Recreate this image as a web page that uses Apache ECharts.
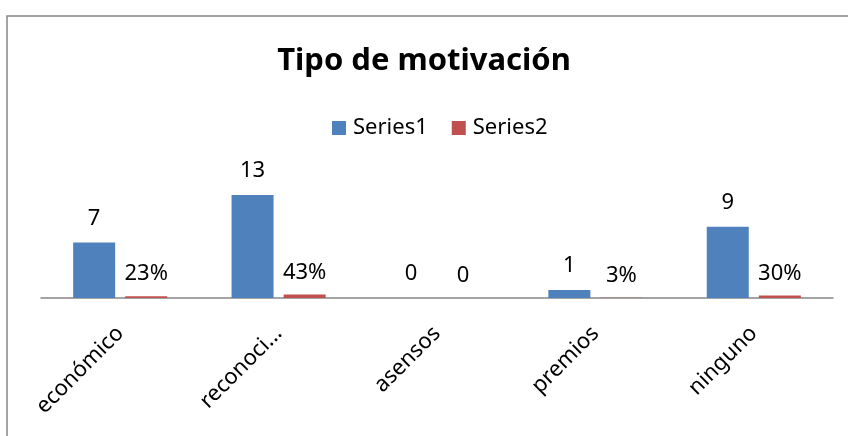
<!DOCTYPE html>
<html>
<head>
    <meta charset="utf-8">
    <title>Tipo de motivación</title>
    <script src="https://cdn.jsdelivr.net/npm/echarts@6/dist/echarts.min.js"></script>
    <style>
        html, body { margin: 0; padding: 0; background: #fff; }
        #main { width: 848px; height: 436px; }
    </style>
</head>
<body>
    <div id="main"></div>
    <script type="text/javascript">
    // datos
    var categorias = ['económico', 'reconoci...', 'asensos', 'premios', 'ninguno'];
    var serie1 = [7, 13, 0, 1, 9];
    var serie2 = [0.23, 0.43, 0, 0.03, 0.30];

    var fuente = 'Noto Sans';

    var myChart = echarts.init(document.getElementById('main'));

    var option = {
        animation: false,
        backgroundColor: '#fff',
        title: {
            text: 'Tipo de motivación',
            left: 'center',
            top: 41,
            textStyle: { fontFamily: fuente, fontSize: 31, fontWeight: 'bold', color: '#000' }
        },
        legend: {
            top: 112,
            left: 327,
            itemWidth: 14,
            itemHeight: 14,
            itemGap: 24,
            icon: 'rect',
            textStyle: { fontFamily: fuente, fontSize: 22, color: '#000', padding: [0, 0, 0, 2] },
            data: ['Series1', 'Series2']
        },
        graphic: [{
            type: 'rect',
            shape: { x: 7, y: 16, width: 900, height: 500 },
            style: { fill: 'none', stroke: '#868686', lineWidth: 1.5 },
            silent: true
        }],
        grid: { left: 41, right: 15, top: 187, bottom: 138 },
        xAxis: {
            type: 'category',
            data: categorias,
            axisLine: { lineStyle: { color: '#868686', width: 1.5 } },
            axisTick: { show: false },
            axisLabel: {
                rotate: 45,
                interval: 0,
                margin: 32,
                fontFamily: fuente,
                fontSize: 22,
                color: '#000'
            }
        },
        yAxis: {
            type: 'value',
            min: 0,
            max: 14,
            show: false
        },
        series: [{
            name: 'Series1',
            type: 'bar',
            data: serie1,
            barWidth: 42,
            barGap: '24%',
            itemStyle: { color: '#4F81BD' },
            label: {
                show: true,
                position: 'top',
                distance: 13,
                fontFamily: fuente,
                fontSize: 22,
                color: '#000'
            }
        }, {
            name: 'Series2',
            type: 'bar',
            data: serie2,
            barWidth: 42,
            itemStyle: { color: '#C0504D' },
            label: {
                show: true,
                position: 'top',
                distance: 11,
                fontFamily: fuente,
                fontSize: 22,
                color: '#000',
                formatter: function (p) {
                    return p.value === 0 ? '0' : Math.round(p.value * 100) + '%';
                }
            }
        }]
    };

    myChart.setOption(option);
    </script>
</body>
</html>
